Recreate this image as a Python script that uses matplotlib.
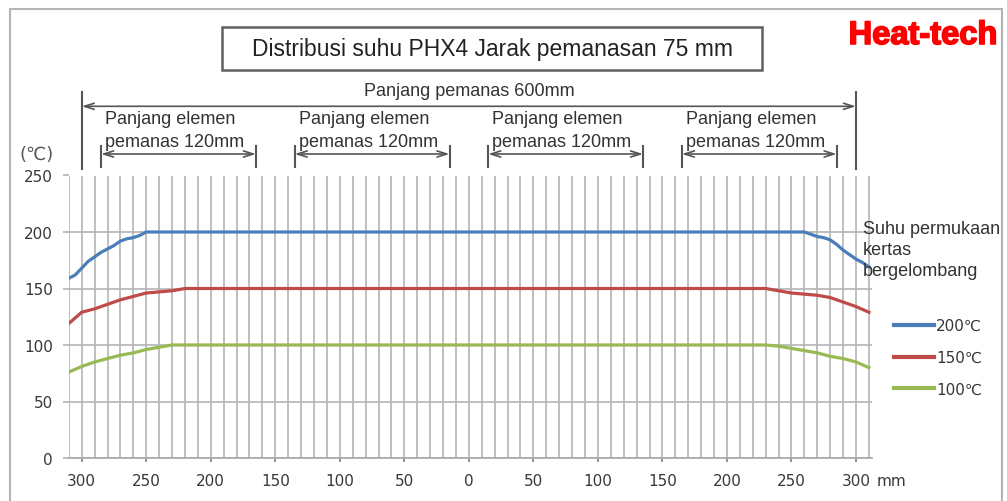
import matplotlib
matplotlib.use('Agg')
import matplotlib.pyplot as plt
import matplotlib.transforms as mtransforms
import matplotlib.patheffects as pe
from matplotlib.lines import Line2D
from matplotlib.patches import Rectangle
from matplotlib.ticker import MultipleLocator, FuncFormatter

# surface temperature (deg C) along the heater, position in mm from the centre
pos_200 = [-310, -305, -300, -295, -290, -285, -280, -275, -270, -265, -260, -255, -250,
           255, 260, 265, 270, 275, 280, 285, 290, 295, 300, 305, 310]
temp_200 = [159, 162, 168, 174, 178, 182, 185, 188, 192, 194, 195, 197, 200,
            200, 200, 198, 196, 195, 193, 189, 184, 180, 176, 173, 169]

pos_150 = [-310, -305, -300, -290, -280, -270, -260, -250, -240, -230, -220,
           230, 240, 250, 260, 270, 280, 290, 300, 310]
temp_150 = [119, 124, 129, 132, 136, 140, 143, 146, 147, 148, 150,
            150, 148, 146, 145, 144, 142, 138, 134, 129]

pos_100 = [-310, -300, -290, -280, -270, -260, -250, -240, -230, -220,
           230, 240, 250, 260, 270, 280, 290, 300, 310]
temp_100 = [76, 81, 85, 88, 91, 93, 96, 98, 100, 100,
            100, 99, 97, 95, 93, 90, 88, 85, 80]

series_labels = ['200℃', '150℃', '100℃']
series_colors = ['#4a7ebb', '#be4b48', '#98b954']

heater_span = (-300, 300)
element_spans = [(-285, -165), (-135, -15), (15, 135), (165, 285)]

W, H = 1007, 502


def fy(py):
    # pixel row measured from the top -> figure fraction
    return 1 - py / H


fig = plt.figure(figsize=(W / 100, H / 100), dpi=100)
ax = fig.add_axes([68.8 / W, 43 / H, 802.7 / W, 282.5 / H])

for xs, ys, c in zip([pos_200, pos_150, pos_100], [temp_200, temp_150, temp_100], series_colors):
    ax.plot(xs, ys, color=c, lw=2.3, zorder=3)

ax.set_xlim(-310, 312)
ax.set_ylim(0, 250)
ax.xaxis.set_major_locator(MultipleLocator(50))
ax.xaxis.set_minor_locator(MultipleLocator(10))
ax.yaxis.set_major_locator(MultipleLocator(50))
ax.xaxis.set_major_formatter(FuncFormatter(lambda v, p: '%d' % abs(round(v))))

ax.set_axisbelow(True)
ax.grid(which='both', axis='x', color='#b4b4b4', lw=1.2)
ax.grid(which='major', axis='y', color='#b4b4b4', lw=1.2)
for s in ['left', 'top', 'right']:
    ax.spines[s].set_visible(False)
ax.spines['bottom'].set_color('#a8a8a8')
ax.spines['bottom'].set_linewidth(1.2)

ax.tick_params(axis='y', length=4, width=1.2, color='#b4b4b4', pad=7.5,
               labelsize=11, labelcolor='#383838')
ax.tick_params(axis='x', which='major', length=3, width=1.2, color='#808080', pad=8,
               labelsize=11, labelcolor='#383838')
ax.tick_params(axis='x', which='minor', length=0)

trans = mtransforms.blended_transform_factory(ax.transData, fig.transFigure)
arrow_kw = dict(arrowstyle='<->,head_length=0.7,head_width=0.22', color='#555555',
                lw=1.2, shrinkA=0, shrinkB=0)

# overall heater length
y_long = fy(107.3)
ax.annotate('', xy=(heater_span[1], y_long), xycoords=trans,
            xytext=(heater_span[0], y_long), textcoords=trans,
            arrowprops=arrow_kw, annotation_clip=False)
for x in heater_span:
    fig.add_artist(Line2D([x, x], [fy(93), fy(170)], transform=trans, color='#555555', lw=1.5))
fig.text(sum(heater_span) / 2, fy(91), 'Panjang pemanas 600mm', transform=trans,
         ha='center', va='center', fontsize=13, family='Liberation Sans', color='#333333')

# individual heating elements
y_el = fy(155)
for x0, x1 in element_spans:
    ax.annotate('', xy=(x1, y_el), xycoords=trans, xytext=(x0, y_el), textcoords=trans,
                arrowprops=arrow_kw, annotation_clip=False)
    for x in (x0, x1):
        fig.add_artist(Line2D([x, x], [fy(146.7), fy(168)], transform=trans,
                              color='#555555', lw=1.5))
    fig.text(x0 + 3, fy(111), 'Panjang elemen\npemanas 120mm', transform=trans,
             ha='left', va='top', fontsize=13, linespacing=1.45,
             family='Liberation Sans', color='#333333')

# title box
fig.add_artist(Rectangle((222 / W, fy(71)), 540 / W, 43 / H, transform=fig.transFigure,
                         fill=False, ec='#606060', lw=1.8))
fig.text(492 / W, fy(49.5), 'Distribusi suhu PHX4 Jarak pemanasan 75 mm',
         ha='center', va='center', fontsize=16.5, family='Liberation Sans', color='#222222')

# outer frame
fig.add_artist(Rectangle((10 / W, -0.1), 992 / W, fy(10) + 0.1, transform=fig.transFigure,
                         fill=False, ec='#b4b4b4', lw=1.5))

fig.text(997 / W, fy(45), 'Heat-tech', ha='right', va='baseline', fontsize=23.5,
         fontweight='bold', family='Liberation Sans', color='#ff0000',
         path_effects=[pe.withStroke(linewidth=1.2, foreground='#ff0000')])

fig.text(37 / W, fy(155), '(℃)', ha='center', va='center', fontsize=13,
         family='DejaVu Sans', color='#555555')
fig.text(877 / W, fy(482), 'mm', ha='left', va='center', fontsize=11,
         family='DejaVu Sans', color='#383838')

fig.text(863 / W, fy(221), 'Suhu permukaan\nkertas\nbergelombang', ha='left', va='top',
         fontsize=13, linespacing=1.3, family='Liberation Sans', color='#333333')

handles = [Line2D([], [], color=c, lw=3) for c in series_colors]
ax.legend(handles, series_labels, loc='center left', bbox_to_anchor=(894 / W, fy(358.5)),
          bbox_transform=fig.transFigure, frameon=False, borderpad=0, borderaxespad=0,
          handlelength=2.6, handletextpad=0.15, labelspacing=1.1,
          prop={'family': 'DejaVu Sans', 'size': 11}, labelcolor='#383838')

fig.savefig('out.png', dpi=100)
